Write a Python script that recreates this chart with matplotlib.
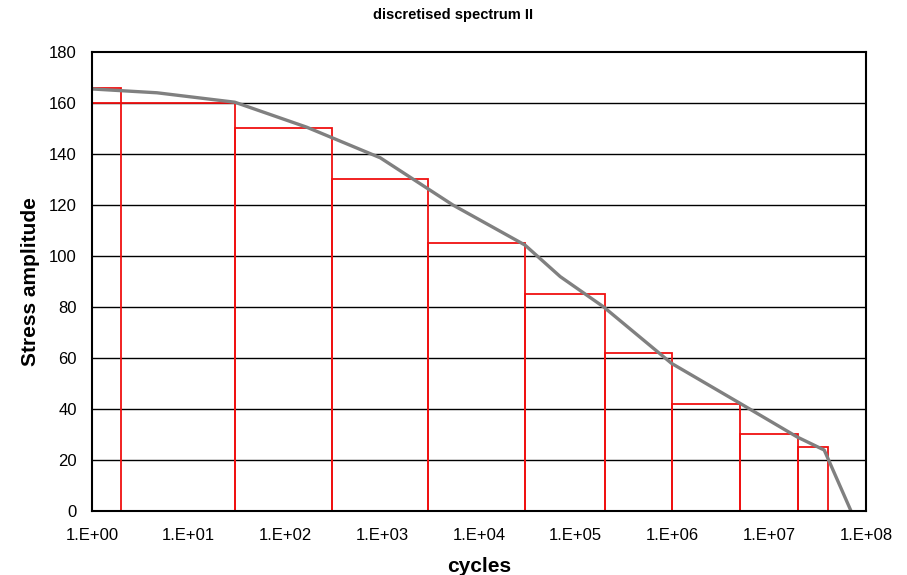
import matplotlib
matplotlib.use("Agg")
import matplotlib.pyplot as plt
import matplotlib.patches as patches

plt.rcParams['font.family'] = ['Liberation Sans', 'DejaVu Sans']

# spectrum curve
curve_cycles = [1, 4.7, 30, 166, 955, 5370, 29850, 69200, 193000, 977000, 5.0e6, 1.95e7, 3.7e7, 7.0e7]
curve_stress = [165.5, 164, 160.3, 150.5, 138.5, 120, 104.3, 91.9, 80.1, 57.9, 42.2, 29.0, 23.9, 0]

# discretised blocks: start cycles, end cycles, stress level
block_start = [1, 1, 30, 300, 3000, 30000, 2e5, 1e6, 5e6, 2e7]
block_end = [2, 30, 300, 3000, 30000, 2e5, 1e6, 5e6, 2e7, 4e7]
block_level = [166, 160, 150, 130, 105, 85, 62, 42, 30, 25]

x_ticks = [1e0, 1e1, 1e2, 1e3, 1e4, 1e5, 1e6, 1e7, 1e8]
x_ticklabels = ["1.E+00", "1.E+01", "1.E+02", "1.E+03", "1.E+04",
                "1.E+05", "1.E+06", "1.E+07", "1.E+08"]
y_ticks = [0, 20, 40, 60, 80, 100, 120, 140, 160, 180]

fig = plt.figure(figsize=(9.07, 5.75), dpi=100)
ax = fig.add_axes([0.1014, 0.1113, 0.8534, 0.7983])
ax.set_xscale('log')
ax.set_xlim(1, 1e8)
ax.set_ylim(0, 180)

for y in y_ticks[1:-1]:
    ax.axhline(y, color='black', lw=1.0, zorder=1)

for x0, x1, h in zip(block_start, block_end, block_level):
    rect = patches.Rectangle((x0, 0), x1 - x0, h, facecolor='none',
                             edgecolor='#f01010', linewidth=1.3, zorder=2)
    ax.add_patch(rect)

ax.plot(curve_cycles, curve_stress, color='#808080', lw=2.4, zorder=3,
        solid_capstyle='butt')

ax.set_xticks(x_ticks)
ax.set_xticklabels(x_ticklabels)
ax.minorticks_off()
ax.set_yticks(y_ticks)
ax.tick_params(length=0, labelsize=12)
ax.tick_params(axis='x', pad=12)
ax.tick_params(axis='y', pad=11)
for s in ax.spines.values():
    s.set_linewidth(1.5)
    s.set_zorder(5)

ax.set_xlabel("cycles", fontsize=15, fontweight='bold', labelpad=10)
ax.set_ylabel("Stress amplitude", fontsize=15, fontweight='bold', labelpad=6)
fig.text(0.5, 0.974, "discretised spectrum II", fontsize=10.5, fontweight='bold',
         ha='center', va='center')

fig.savefig("out.png", dpi=100)
